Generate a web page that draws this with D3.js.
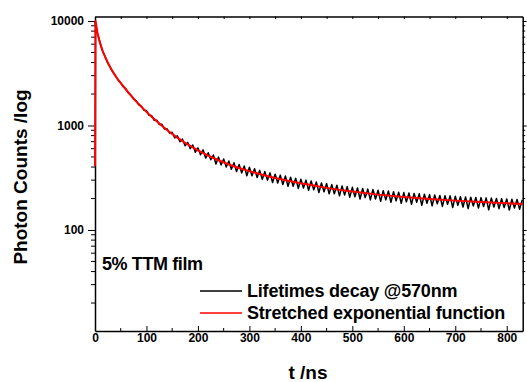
<!DOCTYPE html>
<html lang="en">
    <head>
        <meta charset="utf-8">
        <title>TTM film decay</title>
        <script type="text/javascript" src="https://cdn.jsdelivr.net/npm/d3@7"></script>
        <style>
            body { margin: 0; background: #fff; }
            text { font-family: "Liberation Sans", Arial, sans-serif; font-weight: bold; fill: #000; }
        </style>
    </head>
    <body>
        <script type="text/javascript">

            //Width and height
            var w = 527;
            var h = 382;
            var margin = {left: 95, top: 16.5, right: 4.3, bottom: 51};

            //Measured decay, one value every 5 ns from 0 ns
            var decayStep = 5;
            var decayCounts = [
                9800, 7550, 6150, 5100, 4520, 3950, 3590, 3230, 2990, 2720,
                2560, 2350, 2240, 2040, 1950, 1790, 1720, 1580, 1530, 1400,
                1390, 1250, 1245, 1120, 1125, 1020, 1025, 925, 930, 845,
                860, 760, 795, 700, 740, 640, 690, 600, 650, 555,
                612, 525, 585, 488, 548, 470, 522, 428, 498, 420,
                478, 400, 458, 382, 440, 362, 424, 352, 410, 330,
                398, 330, 385, 318, 372, 305, 362, 300, 352, 285,
                342, 282, 335, 272, 328, 262, 320, 262, 312, 250,
                306, 252, 300, 240, 294, 242, 288, 228, 282, 232,
                278, 222, 272, 222, 268, 212, 264, 216, 260, 206,
                256, 208, 252, 198, 250, 204, 246, 194, 244, 198,
                240, 188, 238, 194, 236, 184, 232, 190, 230, 180,
                228, 186, 226, 176, 224, 184, 222, 172, 220, 180,
                218, 170, 216, 178, 214, 168, 213, 176, 212, 164,
                210, 172, 208, 166, 207, 160, 206, 170, 205, 162,
                204, 168, 203, 156, 202, 166, 200, 160, 199, 164,
                198, 155, 197, 162, 196, 158, 194
            ];

            //Stretched exponential fit
            var fitTime = [0, 1, 5, 10, 15, 20, 25, 30, 40, 50, 60, 70, 80, 90, 100,
                110, 120, 130, 140, 150, 160, 170, 180, 190, 200, 220, 240, 260, 280,
                300, 325, 350, 375, 400, 425, 450, 475, 500, 550, 600, 650, 700, 750, 800, 831];
            var fitCounts = [410, 10000, 7600, 6100, 5150, 4500, 3980, 3560, 2960, 2540, 2210, 1930, 1700, 1510, 1350,
                1215, 1100, 995, 905, 830, 765, 708, 658, 616, 578, 515, 465, 424, 392,
                366, 338, 315, 296, 280, 266, 253, 242, 233, 218, 207, 198, 191, 185, 180, 177];

            var xTicks = [0, 100, 200, 300, 400, 500, 600, 700, 800];
            var yTicks = [100, 1000, 10000];
            var legendLabels = ["Lifetimes decay @570nm", "Stretched exponential function"];
            var legendColors = ["#000000", "#ff0000"];

            var pw = w - margin.left - margin.right;
            var ph = h - margin.top - margin.bottom;

            //Create scale functions
            var xScale = d3.scaleLinear()
                    .domain([0, 831])
                    .range([0, pw]);

            var yScale = d3.scaleLog()
                    .domain([10.8, 11040])
                    .range([ph, 0]);

            //Create SVG element
            var svg = d3.select("body")
                    .append("svg")
                    .attr("width", w)
                    .attr("height", h);

            var g = svg.append("g")
                    .attr("transform", "translate(" + margin.left + "," + margin.top + ")");

            //Minor ticks for the log axis
            var yMinor = [];
            [10, 100, 1000].forEach(function (dec) {
                for (var k = 2; k <= 9; k++) {
                    yMinor.push(dec * k);
                }
            });
            yMinor = yMinor.filter(function (v) {
                return v > 10.8;
            });
            var xMinor = d3.range(50, 831, 100);

            //Bottom axis, ticks inside
            var xAxis = d3.axisBottom(xScale)
                    .tickValues(xTicks)
                    .tickSizeInner(-5)
                    .tickSizeOuter(0)
                    .tickPadding(9);
            var gx = g.append("g")
                    .attr("transform", "translate(0," + ph + ")")
                    .call(xAxis);
            gx.selectAll("text")
                    .attr("font-size", "12px")
                    .attr("dy", "0.2em");
            gx.selectAll(".xminor")
                    .data(xMinor)
                    .enter()
                    .append("line")
                    .attr("x1", function (d) { return xScale(d); })
                    .attr("x2", function (d) { return xScale(d); })
                    .attr("y1", 0)
                    .attr("y2", -3)
                    .attr("stroke", "#000");

            //Top axis, no labels
            g.append("g")
                    .call(d3.axisTop(xScale).tickValues(d3.merge([xTicks, xMinor])).tickSizeInner(-2.5).tickSizeOuter(0).tickFormat(""));

            //Left axis, ticks outside
            var yAxis = d3.axisLeft(yScale)
                    .tickValues(yTicks)
                    .tickFormat(d3.format("d"))
                    .tickSizeInner(7)
                    .tickSizeOuter(0)
                    .tickPadding(4);
            var gy = g.append("g").call(yAxis);
            gy.selectAll("text").attr("font-size", "12px");
            gy.selectAll(".yminor")
                    .data(yMinor)
                    .enter()
                    .append("line")
                    .attr("y1", function (d) { return yScale(d); })
                    .attr("y2", function (d) { return yScale(d); })
                    .attr("x1", 0)
                    .attr("x2", -4)
                    .attr("stroke", "#000");

            //Right axis, no labels
            var gr = g.append("g")
                    .attr("transform", "translate(" + pw + ",0)")
                    .call(d3.axisRight(yScale).tickValues(yTicks).tickSizeInner(4).tickSizeOuter(0).tickFormat(""));
            gr.selectAll(".yminor")
                    .data(yMinor)
                    .enter()
                    .append("line")
                    .attr("y1", function (d) { return yScale(d); })
                    .attr("y2", function (d) { return yScale(d); })
                    .attr("x1", 0)
                    .attr("x2", 2.5)
                    .attr("stroke", "#000");

            g.selectAll(".domain")
                    .attr("stroke-width", 1.5);

            //Data lines
            var decayLine = d3.line()
                    .x(function (d, i) { return xScale(i * decayStep); })
                    .y(function (d) { return yScale(d); });

            g.append("path")
                    .datum(decayCounts)
                    .attr("d", decayLine)
                    .attr("fill", "none")
                    .attr("stroke", "#000")
                    .attr("stroke-width", 1.5)
                    .attr("stroke-linejoin", "round");

            var fitLine = d3.line()
                    .x(function (d, i) { return xScale(fitTime[i]); })
                    .y(function (d) { return yScale(d); });

            g.append("path")
                    .datum(fitCounts)
                    .attr("d", fitLine)
                    .attr("fill", "none")
                    .attr("stroke", "#ff0000")
                    .attr("stroke-width", 2)
                    .attr("stroke-linejoin", "round");

            //Sample label
            svg.append("text")
                    .attr("x", 102)
                    .attr("y", 270)
                    .attr("font-size", "18px")
                    .attr("letter-spacing", "-0.4px")
                    .text("5% TTM film");

            //Legend
            var legend = svg.selectAll(".legend")
                    .data(legendLabels)
                    .enter()
                    .append("g")
                    .attr("transform", function (d, i) {
                        return "translate(200," + (291 + i * 22) + ")";
                    });
            legend.append("line")
                    .attr("x1", 0)
                    .attr("x2", 42)
                    .attr("stroke", function (d, i) { return legendColors[i]; })
                    .attr("stroke-width", 1.5);
            legend.append("text")
                    .attr("x", 47)
                    .attr("y", 6)
                    .attr("font-size", "18px")
                    .attr("letter-spacing", "-0.2px")
                    .text(function (d) { return d; });

            //Axis titles
            svg.append("text")
                    .attr("x", 308)
                    .attr("y", 379)
                    .attr("text-anchor", "middle")
                    .attr("font-size", "19px")
                    .text("t /ns");

            svg.append("text")
                    .attr("transform", "translate(27,177) rotate(-90)")
                    .attr("text-anchor", "middle")
                    .attr("font-size", "19px")
                    .text("Photon Counts /log");

        </script>
    </body>
</html>
